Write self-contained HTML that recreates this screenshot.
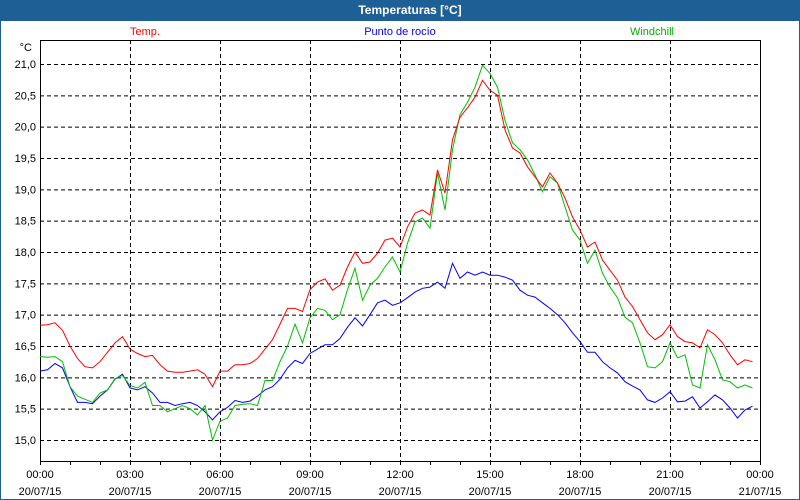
<!DOCTYPE html>
<html><head><meta charset="utf-8"><style>
body{margin:0;width:800px;height:500px;overflow:hidden;background:#fff;font-family:"Liberation Sans",sans-serif}
#win{position:absolute;left:0;top:0;width:798px;height:498px;border:1px solid #1e5f96;background:#fff}
#title{position:absolute;left:0;top:0;width:800px;height:21px;background:#1e5f96;color:#fff;font-weight:bold;font-size:12px;line-height:21px;text-align:center;text-indent:20px}
svg{position:absolute;left:0;top:0}
</style></head><body>
<div id="win"></div>
<div id="title">Temperaturas [°C]</div>
<svg id="c" width="800" height="500" font-family="Liberation Sans, sans-serif" font-size="11">
<text x="145" y="35" fill="#ff0000" text-anchor="middle">Temp.</text>
<text x="400" y="35" fill="#0000ff" text-anchor="middle">Punto de rocío</text>
<text x="652" y="35" fill="#00b000" text-anchor="middle">Windchill</text>
<text x="32" y="51" text-anchor="end">°C</text>
</svg>
<script>
const yTicks=[15.0,15.5,16.0,16.5,17.0,17.5,18.0,18.5,19.0,19.5,20.0,20.5,21.0];
const xTickHours=[0,3,6,9,12,15,18,21,24];
const xTickTimes=["00:00","03:00","06:00","09:00","12:00","15:00","18:00","21:00","00:00"];
const xTickDates=["20/07/15","20/07/15","20/07/15","20/07/15","20/07/15","20/07/15","20/07/15","20/07/15","21/07/15"];
const temp=[16.83,16.84,16.87,16.75,16.5,16.3,16.17,16.15,16.25,16.4,16.55,16.65,16.45,16.38,16.33,16.35,16.2,16.1,16.08,16.08,16.1,16.12,16.05,15.85,16.1,16.1,16.2,16.2,16.22,16.3,16.45,16.6,16.85,17.1,17.1,17.05,17.4,17.52,17.57,17.39,17.47,17.76,18.0,17.82,17.84,17.98,18.19,18.22,18.08,18.4,18.62,18.67,18.59,19.31,18.94,19.79,20.15,20.3,20.47,20.74,20.58,20.5,19.95,19.66,19.58,19.36,19.2,19.04,19.26,19.1,18.86,18.56,18.35,18.08,18.16,17.87,17.71,17.55,17.28,17.13,16.92,16.71,16.6,16.68,16.84,16.65,16.57,16.55,16.47,16.76,16.68,16.55,16.36,16.2,16.28,16.25];
const dew=[16.1,16.12,16.22,16.15,15.85,15.6,15.6,15.58,15.7,15.8,15.97,16.05,15.83,15.8,15.85,15.75,15.6,15.6,15.55,15.58,15.6,15.55,15.45,15.32,15.45,15.52,15.63,15.6,15.62,15.7,15.8,15.85,15.97,16.15,16.27,16.22,16.38,16.45,16.52,16.52,16.62,16.8,16.95,16.82,17.0,17.19,17.23,17.15,17.19,17.27,17.36,17.42,17.44,17.52,17.42,17.82,17.58,17.68,17.63,17.68,17.63,17.63,17.6,17.55,17.39,17.31,17.28,17.19,17.1,17.0,16.87,16.71,16.57,16.4,16.4,16.25,16.15,16.07,15.93,15.86,15.8,15.64,15.6,15.67,15.77,15.61,15.62,15.69,15.51,15.61,15.72,15.64,15.51,15.35,15.48,15.54];
const wind=[16.33,16.32,16.33,16.25,15.85,15.7,15.65,15.6,15.75,15.8,15.98,16.03,15.87,15.83,15.92,15.55,15.55,15.45,15.5,15.55,15.5,15.4,15.55,15.0,15.3,15.35,15.55,15.57,15.58,15.55,15.95,15.95,16.25,16.5,16.85,16.55,16.95,17.1,17.07,16.92,17.0,17.4,17.74,17.23,17.47,17.58,17.76,17.92,17.68,18.14,18.48,18.54,18.38,19.26,18.67,19.63,20.19,20.39,20.63,20.98,20.85,20.63,20.1,19.74,19.63,19.47,19.23,18.96,19.2,19.1,18.72,18.35,18.19,17.82,18.03,17.66,17.44,17.27,16.96,16.87,16.55,16.17,16.15,16.25,16.55,16.31,16.36,15.88,15.83,16.52,16.28,15.96,15.93,15.83,15.88,15.83];
const L=40,R=760,T=40,B=461;
function X(h){return L+(R-L)*h/24;}
function Y(v){return 440-(v-15)*62.67;}
const svg=document.getElementById('c');const NS='http://www.w3.org/2000/svg';
function mk(t,a){const e=document.createElementNS(NS,t);for(const k in a)e.setAttribute(k,a[k]);svg.appendChild(e);return e;}
yTicks.forEach(v=>{
 const g=mk('line',{x1:L,x2:R,y1:Y(v)+.5,y2:Y(v)+.5,stroke:'#000','stroke-dasharray':'4,3'});
 
 
 const t=mk('text',{x:L-4,y:Y(v)+4,'text-anchor':'end'});t.textContent=v.toFixed(1).replace('.',',');
 
 
});
xTickHours.forEach((h,i)=>{
 if(h>0&&h<24){const g=mk('line',{x1:X(h)+.5,x2:X(h)+.5,y1:T,y2:B,stroke:'#000','stroke-dasharray':'4,3'});
 
 }
 const t1=mk('text',{x:X(h),y:478,'text-anchor':'middle'});t1.textContent=xTickTimes[i];
 
 
 const t2=mk('text',{x:X(h),y:495,'text-anchor':'middle'});t2.textContent=xTickDates[i];
 
 
});
for(let h=0;h<=24;h++){const m=mk('line',{x1:X(h)+.5,x2:X(h)+.5,y1:B,y2:B+4,stroke:'#000'});
 
 }
const fr=mk('path',{d:`M${L+.5} ${T+.5}V${B+.5}H${R+.5}V${T+.5}Z`,fill:'none',stroke:'#000'});


function series(arr,col,name){
 const p=mk('polyline',{points:arr.map((v,i)=>X(i*0.25).toFixed(1)+','+Y(v).toFixed(1)).join(' '),fill:'none',stroke:col,'stroke-width':1});
 
 
}
series(dew,'#0000ff','dewpoint-line');
series(wind,'#00c000','windchill-line');
series(temp,'#ff0000','temp-line');
</script>
</body></html>
